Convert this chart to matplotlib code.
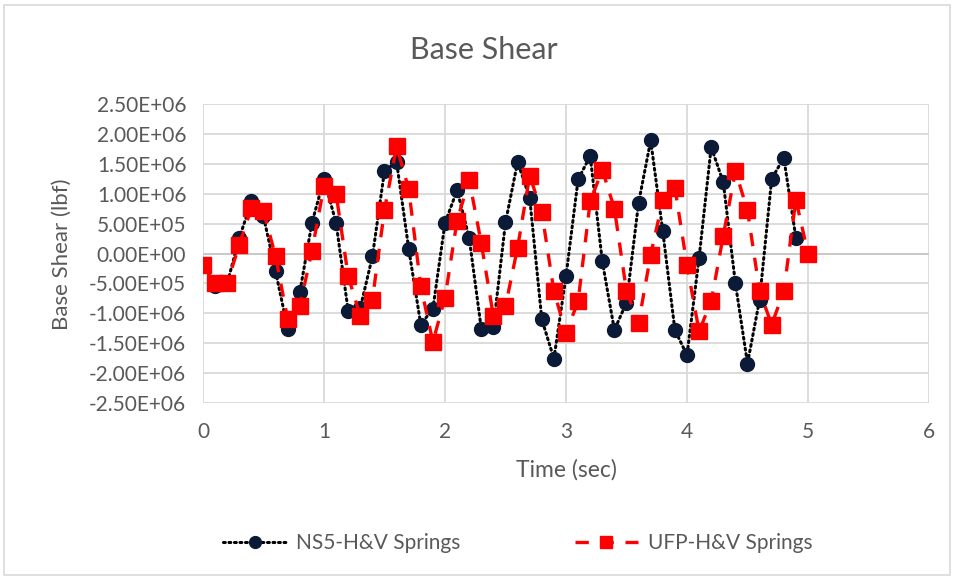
import matplotlib
matplotlib.use("Agg")
import matplotlib.pyplot as plt
from matplotlib.patches import Rectangle
from matplotlib.ticker import FuncFormatter, MultipleLocator

# Time steps (sec)
time_ns5 = [0.0, 0.1, 0.2, 0.3, 0.4, 0.5, 0.6, 0.7, 0.8, 0.9,
            1.0, 1.1, 1.2, 1.3, 1.4, 1.5, 1.6, 1.7, 1.8, 1.9,
            2.0, 2.1, 2.2, 2.3, 2.4, 2.5, 2.6, 2.7, 2.8, 2.9,
            3.0, 3.1, 3.2, 3.3, 3.4, 3.5, 3.6, 3.7, 3.8, 3.9,
            4.0, 4.1, 4.2, 4.3, 4.4, 4.5, 4.6, 4.7, 4.8, 4.9]
time_ufp = [0.0, 0.1, 0.2, 0.3, 0.4, 0.5, 0.6, 0.7, 0.8, 0.9,
            1.0, 1.1, 1.2, 1.3, 1.4, 1.5, 1.6, 1.7, 1.8, 1.9,
            2.0, 2.1, 2.2, 2.3, 2.4, 2.5, 2.6, 2.7, 2.8, 2.9,
            3.0, 3.1, 3.2, 3.3, 3.4, 3.5, 3.6, 3.7, 3.8, 3.9,
            4.0, 4.1, 4.2, 4.3, 4.4, 4.5, 4.6, 4.7, 4.8, 4.9, 5.0]

# Base shear (lbf)
shear_ns5 = [-2.0e5, -5.5e5, -5.0e5, 2.6e5, 8.7e5, 6.2e5, -3.0e5, -1.26e6, -6.5e5, 5.1e5,
             1.25e6, 5.1e5, -9.6e5, -9.1e5, -5.0e4, 1.38e6, 1.53e6, 8.0e4, -1.19e6, -9.2e5,
             5.1e5, 1.06e6, 2.6e5, -1.26e6, -1.23e6, 5.2e5, 1.53e6, 9.3e5, -1.10e6, -1.76e6,
             -3.8e5, 1.24e6, 1.63e6, -1.3e5, -1.28e6, -8.2e5, 8.5e5, 1.89e6, 3.7e5, -1.28e6,
             -1.70e6, -7.0e4, 1.78e6, 1.19e6, -5.0e5, -1.84e6, -7.7e5, 1.25e6, 1.60e6, 2.6e5]
shear_ufp = [-2.0e5, -5.0e5, -5.0e5, 1.5e5, 7.6e5, 7.1e5, -5.0e4, -1.10e6, -8.8e5, 4.0e4,
             1.13e6, 1.00e6, -3.8e5, -1.05e6, -7.7e5, 7.3e5, 1.79e6, 1.08e6, -5.5e5, -1.48e6,
             -7.4e5, 5.5e5, 1.23e6, 1.7e5, -1.05e6, -8.8e5, 1.0e5, 1.30e6, 6.9e5, -6.3e5,
             -1.33e6, -8.0e5, 8.7e5, 1.40e6, 7.5e5, -6.3e5, -1.16e6, -2.0e4, 8.9e5, 1.10e6,
             -2.0e5, -1.30e6, -8.0e5, 3.0e5, 1.38e6, 7.2e5, -6.3e5, -1.19e6, -6.3e5, 9.0e5, 0.0]

label_ns5 = "NS5-H&V Springs"
label_ufp = "UFP-H&V Springs"

TEXT = "#595959"
GRID = "#d9d9d9"
plt.rcParams["font.family"] = ["Lato", "DejaVu Sans"]

W, H = 954, 580
fig = plt.figure(figsize=(W / 100, H / 100), dpi=100)
fig.patches.append(Rectangle((4 / W, 5 / H), 946 / W, 570 / H,
                             transform=fig.transFigure, fill=False,
                             edgecolor=GRID, linewidth=1.2))

ax = fig.add_axes([203 / W, 1 - 403 / H, (929 - 203) / W, (403 - 104) / H])

ax.plot(time_ns5, shear_ns5, linestyle=(0, (0.6, 1.2)), color="black", linewidth=2.2,
        marker="o", markersize=10, markerfacecolor="#0b1a36",
        markeredgecolor="#0b1a36", label=label_ns5, zorder=3,
        dash_capstyle="round")
ax.plot(time_ufp, shear_ufp, linestyle=(0, (4, 3.5)), color="#ff0000", linewidth=2.4,
        marker="s", markersize=11, markerfacecolor="#ff0000",
        markeredgecolor="#ff0000", label=label_ufp, zorder=4)

ax.set_xlim(0, 6)
ax.set_ylim(-2.5e6, 2.5e6)
ax.xaxis.set_major_locator(MultipleLocator(1))
ax.yaxis.set_major_locator(MultipleLocator(5e5))
ax.yaxis.set_major_formatter(FuncFormatter(lambda v, _pos: f"{v:.2E}"))

ax.grid(True, color=GRID, linewidth=1.3)
ax.axhline(0, color="#c8c8c8", linewidth=1.3, zorder=1)
for sp in ax.spines.values():
    sp.set_visible(False)
ax.tick_params(length=0, labelsize=15, labelcolor=TEXT)
ax.tick_params(axis="y", pad=12)
ax.tick_params(axis="x", pad=14)
ax.set_axisbelow(True)

fig.text(484 / W, 1 - 50 / H, "Base Shear", ha="center", va="center",
         fontsize=22, color=TEXT)
fig.text(566 / W, 1 - 470 / H, "Time (sec)", ha="center", va="center",
         fontsize=16.5, color=TEXT)
fig.text(62 / W, 1 - 254 / H, "Base Shear (lbf)", ha="center", va="center",
         rotation=90, fontsize=16, color=TEXT)

fig.legend(loc="center", bbox_to_anchor=(518 / W, 1 - 543 / H), ncol=2,
           frameon=False, fontsize=15, labelcolor=TEXT, markerscale=0.85,
           handlelength=3.0, columnspacing=5.5, handletextpad=0.5)

fig.savefig("out.png", dpi=100)
